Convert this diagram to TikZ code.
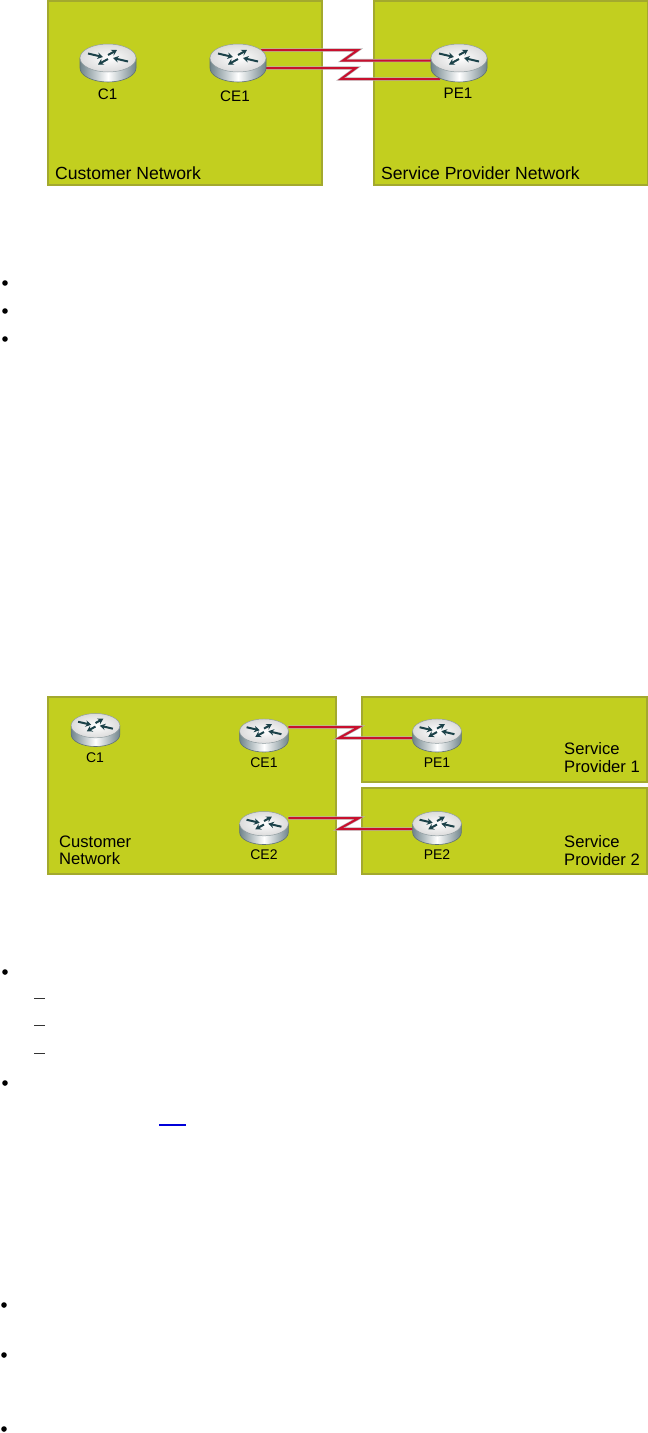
\documentclass[tikz,border=0pt]{standalone}
\usepackage{fontspec}
\setmainfont{Liberation Sans}
\usetikzlibrary{arrows.meta}
\definecolor{netfill}{HTML}{C2CF1F}
\definecolor{netedge}{HTML}{A3A92E}
\definecolor{linkred}{HTML}{C8102E}
\definecolor{linkhalo}{HTML}{B9B2B4}
\definecolor{rtedge}{HTML}{5F7178}
\definecolor{rtside}{HTML}{71858C}
\definecolor{rtarrow}{HTML}{1C4249}
\tikzset{
  netbox/.style={draw=netedge,fill=netfill,line width=1.6pt,outer sep=0pt,inner sep=0pt,anchor=north west},
  rtanchor/.style={inner sep=0pt,outer sep=0pt,minimum width=#1*56pt,minimum height=#1*38pt},
  nettext/.style={anchor=base west,inner sep=0pt,font=\fontsize{17.6}{20}\selectfont},
  nettextb/.style={anchor=west,inner sep=0pt,align=left,font=\fontsize{16.6}{17.2}\selectfont},
  rtlabel/.style={inner sep=0pt,font=\fontsize{15.2}{16}\selectfont},
  rtlabelb/.style={inner sep=0pt,font=\fontsize{14}{15}\selectfont},
  halo/.style={draw=linkhalo,line width=3.2pt,line join=miter},
  redlink/.style={draw=linkred,line width=2pt,line join=miter},
  rtarr/.style={draw=rtarrow,line width=2pt,-{Stealth[length=5.5pt,width=6.5pt]}},
  bulletdot/.style={circle,fill=black,inner sep=0pt,minimum size=5.6pt},
  dashmark/.style={draw=black!80,line width=1.3pt},
}
\newcommand{\rtart}[3]{%
  \begin{scope}[shift={(#1,#2)},scale=#3]
    \path[draw=rtedge,line width=.6pt,left color=rtside,right color=rtside,middle color=white]
      (-28,-5) -- (-28,5) .. controls (-28,12.73) and (-15.46,19) .. (0,19)
      .. controls (15.46,19) and (28,12.73) .. (28,5) -- (28,-5) -- cycle;
    \path[draw=rtedge!70,line width=.5pt,inner color=white,outer color=black!14]
      (0,-5) ellipse [x radius=28,y radius=14];
    \draw[rtarr] (-20,-9.5) -- (-5,-6);
    \draw[rtarr] (0,-8) -- (9,-13);
    \draw[rtarr] (20,-1.5) -- (5,-5);
    \draw[rtarr] (0,-4) -- (-10,1.5);
  \end{scope}}
\begin{document}
\begin{tikzpicture}[x=1pt,y=-1pt]
\useasboundingbox (0,0) rectangle (648,1433);
% top diagram
\node[netbox,minimum width=274pt,minimum height=184pt] (custA) at (48,1) {};
\node[netbox,minimum width=273.5pt,minimum height=184pt] (provA) at (374,1) {};
\node[nettext] (custAt) at (55,179) {Customer Network};
\node[nettext] (provAt) at (381,179) {Service Provider Network};
\node[rtanchor=1] (c1a) at (108,63) {};
\node[rtanchor=1] (ce1a) at (238,63) {};
\node[rtanchor=1] (pe1a) at (459,63) {};
\node[rtlabel] (c1al) at (107.5,94) {C1};
\node[rtlabel] (ce1al) at (235,96) {CE1};
\node[rtlabel] (pe1al) at (458,93) {PE1};
\foreach \st in {halo,redlink}{
  \draw[\st] ([yshift=13pt,xshift=-5pt]ce1a.east) -- (358,50) -- (343,60.5) -- ([yshift=2.5pt]pe1a.west);
  \draw[\st] ([yshift=-5pt]ce1a.east) -- (356,68) -- (341,79) -- ([yshift=-16pt,xshift=9pt]pe1a.west);
}
\rtart{108}{63}{1}
\rtart{238}{63}{1}
\rtart{459}{63}{1}
% first bullets
\node[bulletdot] (b1) at (5,283) {};
\node[bulletdot] (b2) at (5,311) {};
\node[bulletdot] (b3) at (5,339) {};
% second diagram
\node[netbox,minimum width=288pt,minimum height=177pt] (custB) at (48,697) {};
\node[netbox,minimum width=285pt,minimum height=85pt] (provB) at (362,697) {};
\node[netbox,minimum width=285pt,minimum height=86pt] (provC) at (362,788) {};
\node[nettextb] (custBt) at (59,850.5) {Customer\\Network};
\node[nettextb] (provBt) at (564,757.5) {Service\\Provider 1};
\node[nettextb] (provCt) at (564,850.5) {Service\\Provider 2};
\node[rtanchor=.87] (c1b) at (95.5,730) {};
\node[rtanchor=.87] (ce1b) at (264,735.5) {};
\node[rtanchor=.87] (ce2b) at (264,828) {};
\node[rtanchor=.87] (pe1b) at (437,735.5) {};
\node[rtanchor=.87] (pe2b) at (437,828) {};
\node[rtlabelb] (c1bl) at (95,758) {C1};
\node[rtlabelb] (ce1bl) at (264,763) {CE1};
\node[rtlabelb] (ce2bl) at (264,855) {CE2};
\node[rtlabelb] (pe1bl) at (437,763) {PE1};
\node[rtlabelb] (pe2bl) at (437,855) {PE2};
\foreach \st in {halo,redlink}{
  \draw[\st] ([yshift=8.5pt]ce1b.east) -- (359,727) -- (339,738) -- ([yshift=-2.5pt]pe1b.west);
  \draw[\st] ([yshift=10pt]ce2b.east) -- (359,818) -- (339,829) -- ([yshift=-1pt]pe2b.west);
}
\rtart{95.5}{730}{.87}
\rtart{264}{735.5}{.87}
\rtart{264}{828}{.87}
\rtart{437}{735.5}{.87}
\rtart{437}{828}{.87}
% second bullets
\node[bulletdot] (b4) at (5,972) {};
\draw[dashmark] (34,998.5) -- (45,998.5);
\draw[dashmark] (34,1025.5) -- (45,1025.5);
\draw[dashmark] (34,1053.5) -- (45,1053.5);
\node[bulletdot] (b5) at (5,1083) {};
\draw[draw=blue!85!black,line width=1.2pt] (159,1125) -- (186,1125);
\node[bulletdot] (b6) at (4,1305) {};
\node[bulletdot] (b7) at (4,1355) {};
\node[bulletdot] (b8) at (4,1429) {};
\end{tikzpicture}
\end{document}
